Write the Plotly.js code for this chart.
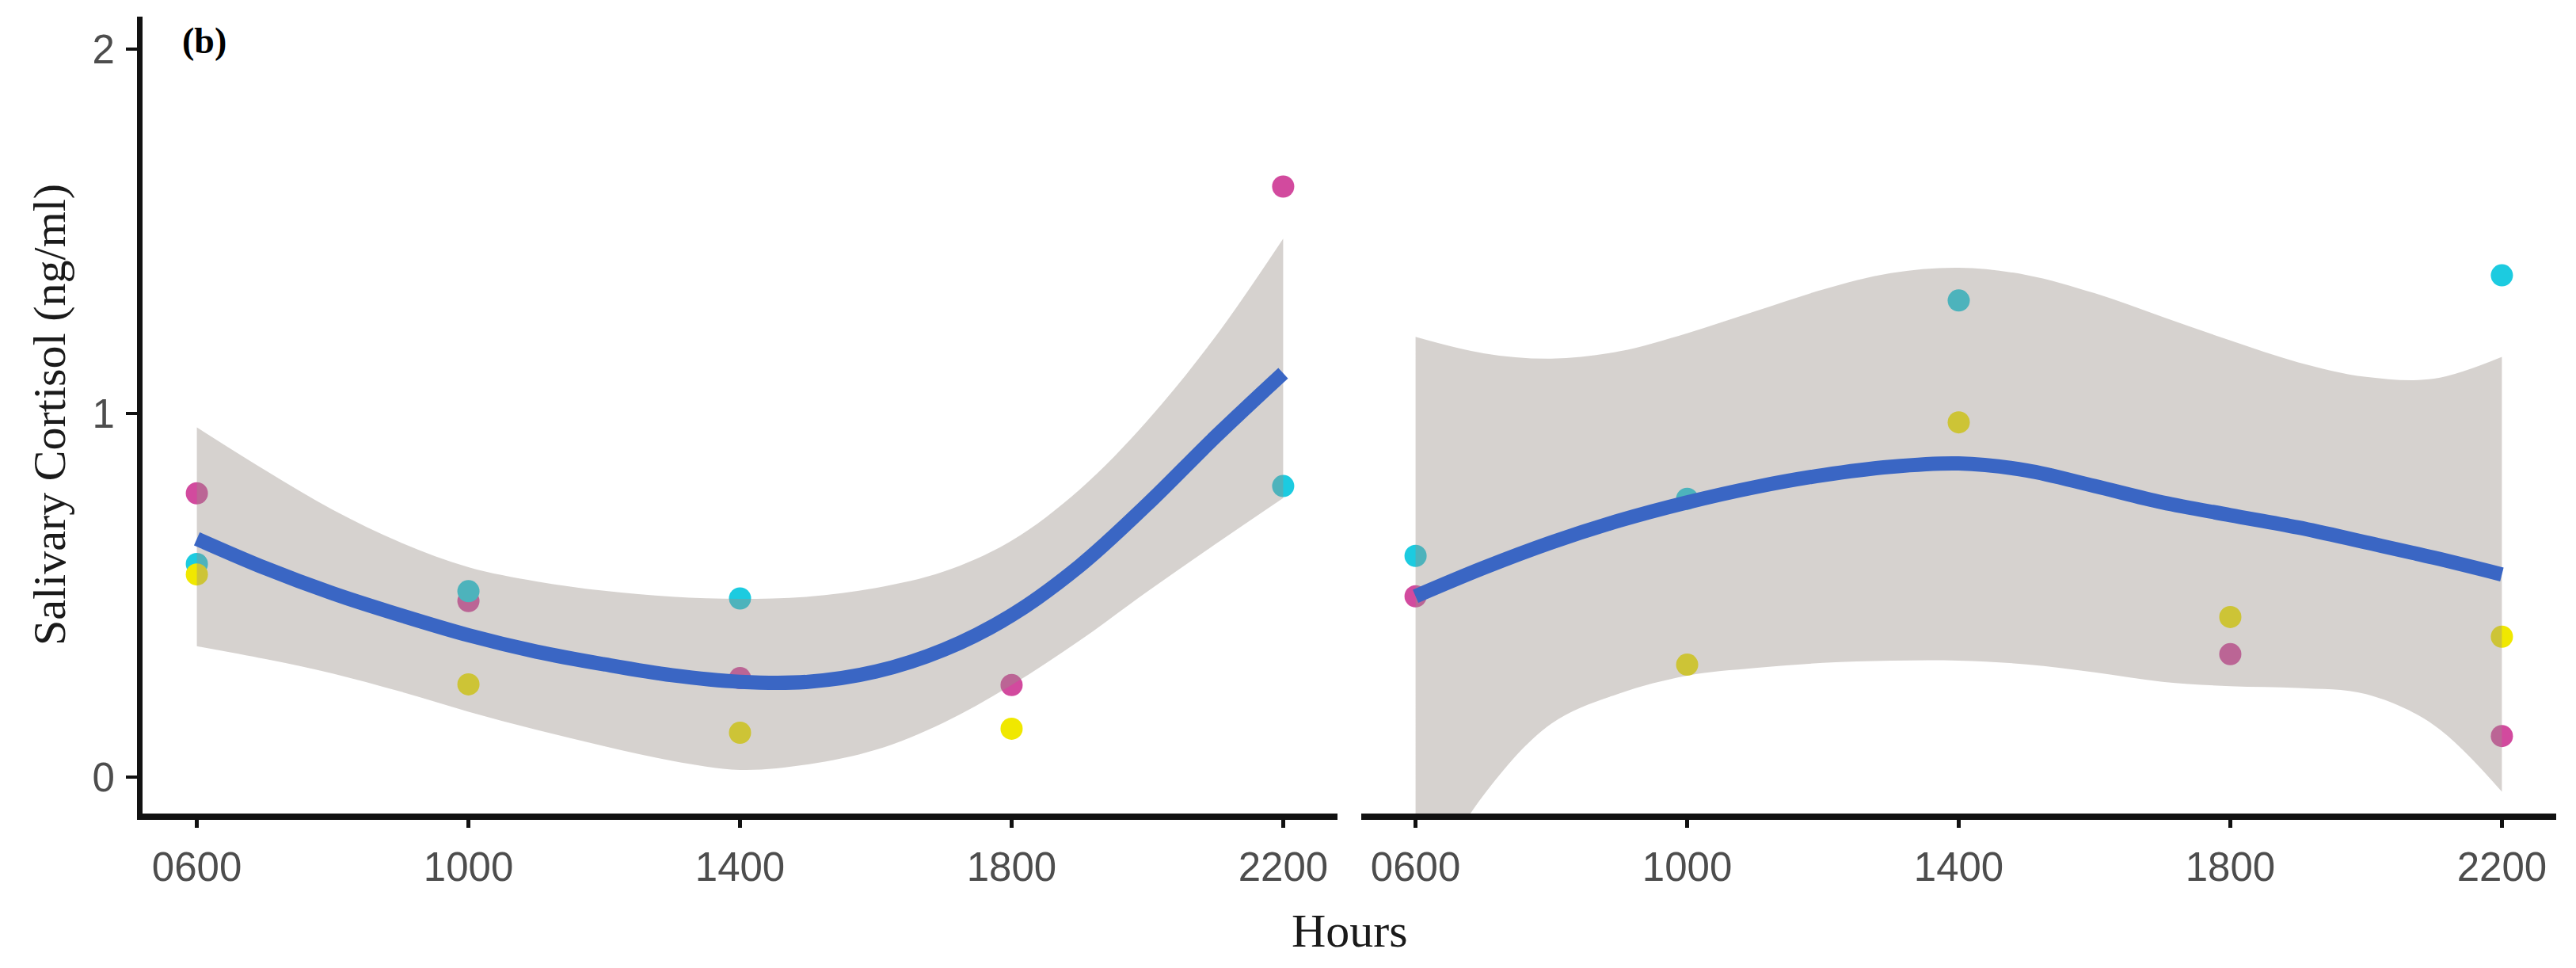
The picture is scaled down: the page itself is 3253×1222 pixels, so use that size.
<!DOCTYPE html>
<html><head><meta charset="utf-8">
<script src="https://cdn.plot.ly/plotly-3.0.1.min.js"></script>
<style>html,body{margin:0;padding:0;background:#fff}</style>
</head><body><div id="chart" style="width:3253px;height:1222px"></div>
<script>
// ---- data ----
const hours = [600, 1000, 1400, 1800, 2200];
const tickLabels = ['0600', '1000', '1400', '1800', '2200'];
const yTicks = [0, 1, 2];

// panel 1 (left) observations
const p1Magenta = [0.78, 0.484, 0.272, 0.253, 1.623];
const p1Cyan    = [0.586, 0.511, 0.491, null, 0.80];
const p1Yellow  = [0.557, 0.255, 0.122, 0.133, null];
// panel 2 (right) observations
const p2Magenta = [0.497, null, null, 0.338, 0.113];
const p2Cyan    = [0.608, 0.765, 1.31, null, 1.379];
const p2Yellow  = [null, 0.309, 0.975, 0.44, 0.386];

// smoother (loess fit and confidence band) read every 100 h
const smoothHours = [600,700,800,900,1000,1100,1200,1300,1400,1500,1600,1700,1800,1900,2000,2100,2200];
const p1Fit   = [0.655,0.575,0.505,0.445,0.39,0.345,0.31,0.28,0.262,0.262,0.29,0.35,0.445,0.58,0.75,0.935,1.11];
const p1Lower = [0.36,0.325,0.285,0.235,0.18,0.13,0.085,0.045,0.02,0.035,0.075,0.15,0.253,0.375,0.51,0.64,0.767];
const p1Upper = [0.961,0.844,0.735,0.645,0.577,0.538,0.512,0.496,0.49,0.496,0.52,0.565,0.65,0.79,0.98,1.21,1.48];
const p2Fit   = [0.497,0.575,0.645,0.705,0.755,0.797,0.83,0.853,0.862,0.843,0.80,0.755,0.72,0.686,0.645,0.603,0.557];
const p2Lower = [-0.35,-0.05,0.147,0.23,0.279,0.30,0.314,0.32,0.32,0.31,0.288,0.262,0.25,0.245,0.228,0.143,-0.04];
const p2Upper = [1.21,1.165,1.15,1.17,1.22,1.28,1.34,1.385,1.40,1.38,1.33,1.265,1.20,1.14,1.10,1.095,1.155];

// ---- styles ----
const colMagenta = '#d24a9e', colCyan = '#1ccbe0', colYellow = '#f0e800';
const lineCol = '#3a66c4';
const ribbonCol = 'rgba(152,142,135,0.4)';
const ptSize = 28;

function pts(y, color, xa, ya) {
  return {x: hours, y: y, type: 'scatter', mode: 'markers', xaxis: xa, yaxis: ya,
    marker: {color: color, size: ptSize, line: {width: 0}}, hoverinfo: 'skip'};
}
function band(lo, hi, xa, ya) {
  return [
    {x: smoothHours, y: lo, type: 'scatter', mode: 'lines', xaxis: xa, yaxis: ya,
     line: {width: 0, shape: 'spline', smoothing: 1}, hoverinfo: 'skip'},
    {x: smoothHours, y: hi, type: 'scatter', mode: 'lines', xaxis: xa, yaxis: ya,
     fill: 'tonexty', fillcolor: ribbonCol,
     line: {width: 0, shape: 'spline', smoothing: 1}, hoverinfo: 'skip'}
  ];
}
function fit(y, xa, ya) {
  return {x: smoothHours, y: y, type: 'scatter', mode: 'lines', xaxis: xa, yaxis: ya,
    line: {color: lineCol, width: 18, shape: 'spline', smoothing: 1}, hoverinfo: 'skip'};
}

const traces = [
  pts(p1Magenta, colMagenta, 'x', 'y'),
  pts(p1Cyan, colCyan, 'x', 'y'),
  pts(p1Yellow, colYellow, 'x', 'y'),
  ...band(p1Lower, p1Upper, 'x', 'y'),
  fit(p1Fit, 'x', 'y'),
  pts(p2Magenta, colMagenta, 'x2', 'y2'),
  pts(p2Cyan, colCyan, 'x2', 'y2'),
  pts(p2Yellow, colYellow, 'x2', 'y2'),
  ...band(p2Lower, p2Upper, 'x2', 'y2'),
  fit(p2Fit, 'x2', 'y2')
];

const W = 3253, H = 1222;
const tickFont = {family: 'Liberation Sans, Arial, sans-serif', size: 51, color: '#4d4d4d'};
const xBase = {
  range: [520, 2280], tickvals: hours, ticktext: tickLabels,
  showline: true, linecolor: '#111', linewidth: 8,
  ticks: 'outside', ticklen: 10, tickwidth: 5, tickcolor: '#111',
  tickfont: tickFont, showgrid: false, zeroline: false, fixedrange: true,
  ticklabelstandoff: 6
};
const yDomain = [1 - 1027 / H, 1 - 21 / H];

const layout = {
  width: W, height: H,
  margin: {l: 0, r: 0, t: 0, b: 0},
  paper_bgcolor: '#fff', plot_bgcolor: '#fff',
  showlegend: false,
  xaxis: Object.assign({}, xBase, {domain: [180 / W, 1689 / W], anchor: 'y'}),
  xaxis2: Object.assign({}, xBase, {domain: [1719 / W, 3228 / W], anchor: 'y2'}),
  yaxis: {domain: yDomain, range: [-0.1, 2.09], tickvals: yTicks, ticktext: yTicks.map(String),
    showline: true, linecolor: '#111', linewidth: 7,
    ticks: 'outside', ticklen: 14, tickwidth: 4, tickcolor: '#111',
    tickfont: tickFont, showgrid: false, zeroline: false, fixedrange: true, anchor: 'x',
    ticklabelstandoff: 4},
  yaxis2: {domain: yDomain, range: [-0.1, 2.09], anchor: 'x2', showline: false,
    showticklabels: false, ticks: '', showgrid: false, zeroline: false, fixedrange: true},
  annotations: [
    {text: '<b>(b)</b>', xref: 'paper', yref: 'paper', x: 228 / W, y: 1 - 52 / H,
     xanchor: 'left', yanchor: 'middle', showarrow: false,
     font: {family: 'Liberation Serif, Times New Roman, serif', size: 46, color: '#000'}},
    {text: 'Hours', xref: 'paper', yref: 'paper', x: 1704 / W, y: 1 - 1175 / H,
     xanchor: 'center', yanchor: 'middle', showarrow: false,
     font: {family: 'Liberation Serif, Times New Roman, serif', size: 60, color: '#1a1a1a'}},
    {text: 'Salivary Cortisol (ng/ml)', xref: 'paper', yref: 'paper', x: 62 / W, y: 1 - 524 / H,
     xanchor: 'center', yanchor: 'middle', textangle: -90, showarrow: false,
     font: {family: 'Liberation Serif, Times New Roman, serif', size: 58, color: '#1a1a1a'}}
  ]
};

Plotly.newPlot('chart', traces, layout, {staticPlot: true, displayModeBar: false});
</script>
</body></html>
